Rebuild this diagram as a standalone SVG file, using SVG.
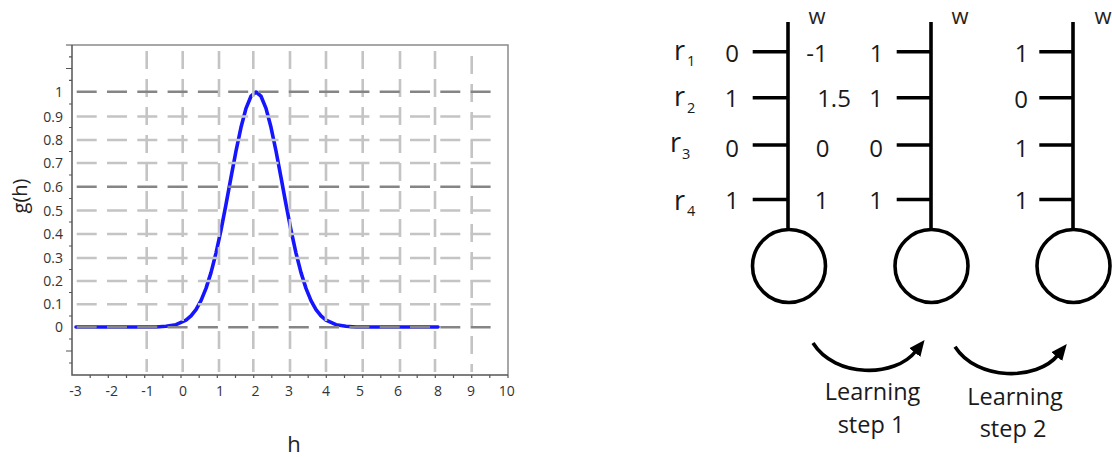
<svg xmlns="http://www.w3.org/2000/svg" width="1112" height="457" viewBox="0 0 1112 457">
<style>
.tick{font-family:"Open Sans","Liberation Sans",sans-serif;font-size:14px;fill:#333}
.ax{stroke:#555;stroke-width:1.5;fill:none}
.frame{stroke:#8a8a8a;stroke-width:1.5;fill:none}
.gl{stroke:#c4c4c4;stroke-width:2.6;stroke-dasharray:20 10.3;fill:none}
.gd{stroke:#858585;stroke-width:2.6;stroke-dasharray:20 10.3;fill:none}
.gv{stroke:#c4c4c4;stroke-width:2.6;stroke-dasharray:18 10;fill:none}
.tk{stroke:#555;stroke-width:1.2}
.lab{font-family:"Open Sans","Liberation Sans",sans-serif;fill:#222}
.num{font-family:"Open Sans","Liberation Sans",sans-serif;font-size:24px;fill:#1a1a1a;text-anchor:middle}
.rl{font-family:"Open Sans","Liberation Sans",sans-serif;font-size:27px;fill:#1a1a1a}
.sub{font-size:14.5px}
.w{font-family:"Open Sans","Liberation Sans",sans-serif;font-size:22px;fill:#2a2218;text-anchor:middle}
.blk{stroke:#000;stroke-width:3.6;fill:none}
.cap{font-family:"Open Sans","Liberation Sans",sans-serif;font-size:23.5px;fill:#1a1a1a;text-anchor:middle}
</style>
<defs>
<marker id="ah" viewBox="0 -7.5 16 15" markerWidth="16" markerHeight="15" markerUnits="userSpaceOnUse" refX="2" refY="0" orient="auto">
<path d="M0,-7 L16,0 L0,7 z" fill="#000"/>
</marker>
</defs>
<rect width="1112" height="457" fill="#fff"/>

<g id="plot">
<polyline points="76,327 156,327 166,326.3 176,324.7 186,320.2 191,315.9 196,309.6 201,300.6 206,288.4 211,272.6 216,253.1 221,230.1 226,204.4 231,177.4 236,151 241,127.3 246,108.4 251,96.2 256,92 261,96.2 266,108.4 271,127.3 276,151 281,177.4 286,204.4 291,230.1 296,253.1 301,272.6 306,288.4 311,300.6 316,309.6 321,315.9 326,320.2 336,324.7 346,326.3 356,327 438,327" fill="none" stroke="#1515ff" stroke-width="3.6" stroke-linejoin="round" stroke-linecap="round"/>
<g id="vgrid">
<line class="gv" x1="146.7" y1="51" x2="146.7" y2="372"/>
<line class="gv" x1="182.7" y1="51" x2="182.7" y2="372"/>
<line class="gv" x1="219" y1="51" x2="219" y2="372"/>
<line class="gv" x1="253.3" y1="51" x2="253.3" y2="372"/>
<line class="gv" x1="290" y1="51" x2="290" y2="372"/>
<line class="gv" x1="326" y1="51" x2="326" y2="372"/>
<line class="gv" x1="362.7" y1="51" x2="362.7" y2="372"/>
<line class="gv" x1="400" y1="51" x2="400" y2="372"/>
<line class="gv" x1="435" y1="51" x2="435" y2="372"/>
<line class="gv" x1="471.7" y1="56" x2="471.7" y2="372"/>
</g>
<g id="hgrid">
<line class="gd" x1="76.7" y1="91.7" x2="493" y2="91.7"/>
<line class="gl" x1="76.7" y1="116.5" x2="493" y2="116.5"/>
<line class="gl" x1="76.7" y1="140" x2="493" y2="140"/>
<line class="gl" x1="76.7" y1="163" x2="493" y2="163"/>
<line class="gd" x1="76.7" y1="186.7" x2="493" y2="186.7"/>
<line class="gl" x1="76.7" y1="210.5" x2="493" y2="210.5"/>
<line class="gl" x1="76.7" y1="234" x2="493" y2="234"/>
<line class="gl" x1="76.7" y1="258" x2="493" y2="258"/>
<line class="gl" x1="76.7" y1="281" x2="493" y2="281"/>
<line class="gl" x1="76.7" y1="304.3" x2="493" y2="304.3"/>
<line class="gd" x1="76.7" y1="327.3" x2="493" y2="327.3"/>
</g>
<g id="frame">
<path class="frame" d="M66,45 H508 V375"/>
<path class="ax" d="M72,45 V375 H508"/>
<path class="tk" d="M69,56.8 H72 M69,68.5 H72 M69,80.3 H72 M69,104 H72 M69,127.5 H72 M69,151.5 H72 M69,175 H72 M69,198.5 H72 M69,222 H72 M69,246 H72 M69,269.5 H72 M69,292.5 H72 M69,316 H72 M69,339 H72 M69,351 H72 M69,363 H72 M66,68.5 H72 M66,351 H72"/>
<path class="tk" d="M90.2,375 v3 M108.3,375 v3 M126.5,375 v3 M144.7,375 v3 M162.8,375 v3 M181,375 v3 M199.2,375 v3 M217.3,375 v3 M235.5,375 v3 M253.7,375 v3 M271.8,375 v3 M290,375 v3 M308.2,375 v3 M326.3,375 v3 M344.5,375 v3 M362.7,375 v3 M380.8,375 v3 M399,375 v3 M417.2,375 v3 M435.3,375 v3 M453.5,375 v3 M471.7,375 v3 M489.8,375 v3 M508,375 v3"/>
</g>
<g id="ylabels" class="tick" text-anchor="end">
<text x="63" y="96.7">1</text>
<text x="63" y="121.5">0.9</text>
<text x="63" y="145">0.8</text>
<text x="63" y="168">0.7</text>
<text x="63" y="191.7">0.6</text>
<text x="63" y="215.5">0.5</text>
<text x="63" y="239">0.4</text>
<text x="63" y="263">0.3</text>
<text x="63" y="286">0.2</text>
<text x="63" y="309.3">0.1</text>
<text x="63" y="332.3">0</text>
</g>
<g id="xlabels" class="tick" text-anchor="middle">
<text x="75.5" y="396">-3</text>
<text x="111.7" y="396">-2</text>
<text x="147.5" y="396">-1</text>
<text x="183" y="396">0</text>
<text x="220" y="396">1</text>
<text x="255.5" y="396">2</text>
<text x="289" y="396">3</text>
<text x="326" y="396">4</text>
<text x="360" y="396">5</text>
<text x="398" y="396">6</text>
<text x="438" y="396">8</text>
<text x="471" y="396">9</text>
<text x="506.7" y="396">10</text>
</g>
<text class="lab" font-size="20" text-anchor="middle" transform="translate(27,196) rotate(-90)">g(h)</text>
<text class="lab" font-size="22" text-anchor="middle" x="294" y="452">h</text>
</g>

<g id="inputs">
<text class="rl" x="674" y="60">r<tspan class="sub" x="687" y="66">1</tspan></text>
<text class="rl" x="674" y="105.5">r<tspan class="sub" x="687" y="113">2</tspan></text>
<text class="rl" x="670" y="152">r<tspan class="sub" x="682" y="158.5">3</tspan></text>
<text class="rl" x="674" y="209.5">r<tspan class="sub" x="687" y="216">4</tspan></text>
<text class="num" x="732" y="62">0</text>
<text class="num" x="731.5" y="106.7">1</text>
<text class="num" x="732" y="156.7">0</text>
<text class="num" x="732" y="208.5">1</text>
</g>

<g id="neuron1">
<line class="blk" x1="788" y1="22" x2="788" y2="229.5"/>
<path class="blk" d="M752.7,51.7 H788 M752.7,97.7 H788 M752.7,145 H788 M752.7,199.5 H788"/>
<circle class="blk" cx="789" cy="266" r="36.5"/>
<text class="w" x="817" y="24">w</text>
<text class="num" x="817" y="62">-1</text>
<text class="num" x="834" y="106.7">1.5</text>
<text class="num" x="822.5" y="156.7">0</text>
<text class="num" x="821.5" y="208.5">1</text>
</g>

<g id="neuron2">
<line class="blk" x1="931" y1="22" x2="931" y2="229.5"/>
<path class="blk" d="M896.7,51.7 H931 M896.7,97.7 H931 M896.7,145 H931 M896.7,199.5 H931"/>
<circle class="blk" cx="931.5" cy="266" r="36.5"/>
<text class="w" x="960" y="24">w</text>
<text class="num" x="876.5" y="62">1</text>
<text class="num" x="876" y="106.7">1</text>
<text class="num" x="876" y="156.7">0</text>
<text class="num" x="876" y="208.5">1</text>
</g>

<g id="neuron3">
<line class="blk" x1="1073" y1="22" x2="1073" y2="229.5"/>
<path class="blk" d="M1039.3,51.7 H1073 M1039.3,97.7 H1073 M1039.3,145 H1073 M1039.3,199.5 H1073"/>
<circle class="blk" cx="1073.5" cy="266" r="36.5"/>
<text class="w" x="1103" y="24">w</text>
<text class="num" x="1021.5" y="62">1</text>
<text class="num" x="1021" y="107.5">0</text>
<text class="num" x="1021.5" y="157">1</text>
<text class="num" x="1021.5" y="209">1</text>
</g>

<g id="connectors">
<path class="blk" d="M813,343 C835,378 895,378 916,351" marker-end="url(#ah)"/>
<path class="blk" d="M955,346.7 C977,381 1037,381 1058,355" marker-end="url(#ah)"/>
</g>

<g id="labels">
<text class="cap" x="872.5" y="400">Learning</text>
<text class="cap" x="871" y="433">step 1</text>
<text class="cap" x="1015" y="405">Learning</text>
<text class="cap" x="1013" y="436.5">step 2</text>
</g>
</svg>
